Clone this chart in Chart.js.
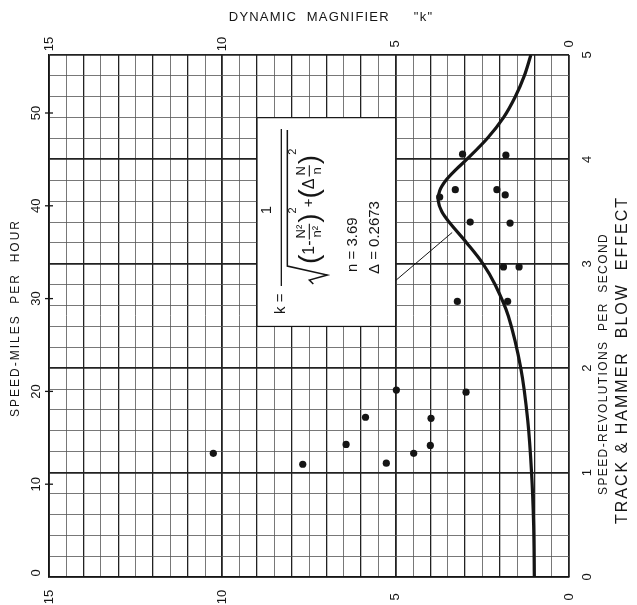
<!DOCTYPE html>
<html>
<head>
<meta charset="utf-8">
<script src="https://cdn.jsdelivr.net/npm/chart.js@4.4.1/dist/chart.umd.min.js"></script>
<style>
  html, body { margin: 0; padding: 0; background: #fff; }
  #wrap { width: 637px; height: 605px; }
</style>
</head>
<body>
<div id="wrap"><canvas id="chart" width="637" height="605"></canvas></div>
<script>
// resonance curve: speed N (rev/s) against dynamic magnifier k
const curveSpeed = [0, 0.5, 1, 1.5, 2, 2.5, 2.8, 3, 3.2, 3.4, 3.5, 3.6, 3.7, 3.8, 3.9, 4, 4.2, 4.4, 4.6, 4.8, 5];
const curveK = [1.00, 1.02, 1.08, 1.19, 1.39, 1.75, 2.13, 2.48, 2.95, 3.46, 3.67, 3.77, 3.73, 3.55, 3.27, 2.95, 2.36, 1.89, 1.55, 1.29, 1.10];

// test runs
const testSpeed = [4.05, 4.04, 3.71, 3.71, 3.66, 3.64, 3.40, 3.39, 2.97, 2.97, 2.64, 2.64,
                   1.79, 1.77, 1.53, 1.52, 1.27, 1.26, 1.185, 1.185, 1.09, 1.08];
const testK = [3.07, 1.82, 3.28, 2.08, 1.84, 3.73, 2.85, 1.70, 1.89, 1.44, 3.22, 1.77,
               4.98, 2.97, 5.87, 3.98, 6.43, 4.00, 10.26, 4.48, 5.27, 7.68];

// tick labels
const kTicks = [15, 10, 5, 0];
const revTicks = [0, 1, 2, 3, 4, 5];
const mphTicks = [0, 10, 20, 30, 40, 50];
const MPH_PER_REV = 11.25;

const INK = "#151515";
const FONT = '"Liberation Sans", Arial, sans-serif';

function rotText(ctx, text, x, y, size, spacing) {
    ctx.save();
    ctx.translate(x, y);
    ctx.rotate(-Math.PI / 2);
    ctx.font = `${size}px ${FONT}`;
    ctx.letterSpacing = (spacing || 0) + "px";
    ctx.textAlign = "center";
    ctx.textBaseline = "middle";
    ctx.fillText(text, 0, 0);
    ctx.restore();
}

function isWhole(v) {
    return Math.abs(v - Math.round(v)) < 1e-6;
}

// formula written sideways inside the white panel
function drawFormula(ctx, cx, cy) {
    ctx.save();
    ctx.translate(cx, cy);
    ctx.rotate(-Math.PI / 2);
    ctx.fillStyle = INK;
    ctx.strokeStyle = INK;
    ctx.textBaseline = "middle";
    const f = s => `${s}px ${FONT}`;

    ctx.font = f(15);
    ctx.textAlign = "left";
    ctx.fillText("k =", -92, -45);

    // main fraction bar and numerator
    ctx.lineWidth = 1.3;
    ctx.beginPath(); ctx.moveTo(-64, -45); ctx.lineTo(93, -45); ctx.stroke();
    ctx.textAlign = "center";
    ctx.fillText("1", 12, -59);

    // radical
    ctx.lineWidth = 1.5;
    ctx.beginPath();
    ctx.moveTo(-62, -13); ctx.lineTo(-58, -17); ctx.lineTo(-53, 1);
    ctx.lineTo(-44, -39); ctx.lineTo(92, -39);
    ctx.stroke();

    // denominator, laid out left to right
    let x = -42;
    const mid = -17;
    const put = (t, size, dy) => {
        ctx.font = f(size);
        ctx.textAlign = "left";
        ctx.fillText(t, x, mid + (dy || 0));
        x += ctx.measureText(t).width;
    };
    const frac = (top, bot) => {
        ctx.font = f(13);
        const w = Math.max(ctx.measureText(top).width, ctx.measureText(bot).width) + 2;
        ctx.textAlign = "center";
        ctx.fillText(top, x + w / 2, mid - 8);
        ctx.fillText(bot, x + w / 2, mid + 8);
        ctx.lineWidth = 1.1;
        ctx.beginPath(); ctx.moveTo(x, mid); ctx.lineTo(x + w, mid); ctx.stroke();
        x += w + 1;
    };
    put("(", 28, 1);
    put("1-", 16);
    x += 1;
    frac("N\u00b2", "n\u00b2");
    put(")", 28, 1);
    put("2", 11, -16);
    put("+", 15);
    put("(", 28, 1);
    put("\u0394", 16);
    x += 2;
    frac("N", "n");
    put(")", 28, 1);
    put("2", 11, -16);

    // constants
    ctx.font = f(15);
    ctx.textAlign = "left";
    ctx.fillText("n = 3.69", -50, 27);
    ctx.fillText("\u0394 = 0.2673", -52, 49);
    ctx.restore();
}

const paperPlugin = {
    id: "paper",
    beforeDraw(chart) {
        const c = chart.ctx;
        c.save();
        c.fillStyle = "#fff";
        c.fillRect(0, 0, chart.width, chart.height);
        c.restore();
    },
    beforeDatasetsDraw(chart) {
        const c = chart.ctx;
        const xs = chart.scales.x, ys = chart.scales.y;
        // white panel for the formula
        const x0 = xs.getPixelForValue(9), x1 = xs.getPixelForValue(5);
        const y0 = ys.getPixelForValue(4.4), y1 = ys.getPixelForValue(2.4);
        c.save();
        c.fillStyle = "#fff";
        c.fillRect(x0, y0, x1 - x0, y1 - y0);
        c.strokeStyle = INK;
        c.lineWidth = 1.2;
        c.strokeRect(x0, y0, x1 - x0, y1 - y0);
        drawFormula(c, (x0 + x1) / 2, (y0 + y1) / 2);
        // leader from panel to the curve
        c.lineWidth = 1;
        c.beginPath();
        c.moveTo(xs.getPixelForValue(5), ys.getPixelForValue(2.84));
        c.lineTo(xs.getPixelForValue(3.37), ys.getPixelForValue(3.30));
        c.stroke();
        c.restore();
    },
    afterDraw(chart) {
        const c = chart.ctx;
        const xs = chart.scales.x, ys = chart.scales.y;
        const area = chart.chartArea;
        c.save();
        c.fillStyle = INK;
        c.strokeStyle = INK;

        // k labels along top and bottom
        kTicks.forEach(k => {
            const px = xs.getPixelForValue(k);
            rotText(c, String(k), px, area.top - 11, 13);
            rotText(c, String(k), px, area.bottom + 20, 13);
        });
        // rev/s labels on the right
        revTicks.forEach(n => {
            rotText(c, String(n), area.right + 18, ys.getPixelForValue(n), 13);
        });
        // mph labels on the left with cross ticks
        c.lineWidth = 1.3;
        mphTicks.forEach(m => {
            const py = ys.getPixelForValue(m / MPH_PER_REV);
            rotText(c, String(m), area.left - 13, py - (m === 0 ? 4 : 0), 13);
            if (m > 0) {
                c.beginPath();
                c.moveTo(area.left - 4, py);
                c.lineTo(area.left + 4, py);
                c.stroke();
            }
        });

        // titles
        c.font = `13px ${FONT}`;
        c.letterSpacing = "1.2px";
        c.textAlign = "center";
        c.textBaseline = "middle";
        c.fillText("DYNAMIC  MAGNIFIER     \"k\"", 331, 17);
        rotText(c, "SPEED-MILES  PER  HOUR", 16, 318, 12, 2);
        rotText(c, "SPEED-REVOLUTIONS  PER  SECOND", area.right + 35, 364, 12, 1.4);
        rotText(c, "TRACK & HAMMER  BLOW  EFFECT", area.right + 54, 360, 16, 2);
        c.restore();
    }
};

const ctx = document.getElementById("chart").getContext("2d");
new Chart(ctx, {
    type: "scatter",
    data: {
        datasets: [
            {
                label: "k",
                data: curveK.map((k, i) => ({ x: k, y: curveSpeed[i] })),
                showLine: true,
                borderColor: INK,
                borderWidth: 3.2,
                pointRadius: 0,
                tension: 0.35,
                order: 1
            },
            {
                label: "tests",
                data: testK.map((k, i) => ({ x: k, y: testSpeed[i] })),
                pointRadius: 3.6,
                pointBackgroundColor: INK,
                pointBorderWidth: 0,
                order: 0
            }
        ]
    },
    options: {
        responsive: false,
        animation: false,
        layout: { padding: { left: 49, right: 68, top: 55, bottom: 28 } },
        plugins: {
            legend: { display: false },
            tooltip: { enabled: false }
        },
        scales: {
            x: {
                type: "linear",
                reverse: true,
                min: 0,
                max: 15,
                ticks: { stepSize: 0.5, display: false },
                grid: {
                    drawTicks: false,
                    color: c => isWhole(c.tick.value) ? "#222" : "#555",
                    lineWidth: c => isWhole(c.tick.value / 5) ? 1.8 : isWhole(c.tick.value) ? 1.3 : 0.8
                },
                border: { display: true, color: INK, width: 1.6 }
            },
            y: {
                type: "linear",
                min: 0,
                max: 5,
                ticks: { stepSize: 0.2, display: false },
                grid: {
                    drawTicks: false,
                    color: c => isWhole(c.tick.value) ? "#222" : "#555",
                    lineWidth: c => isWhole(c.tick.value) ? 1.8 : 0.8
                },
                border: { display: true, color: INK, width: 1.6 }
            }
        }
    },
    plugins: [paperPlugin]
});
</script>
</body>
</html>
